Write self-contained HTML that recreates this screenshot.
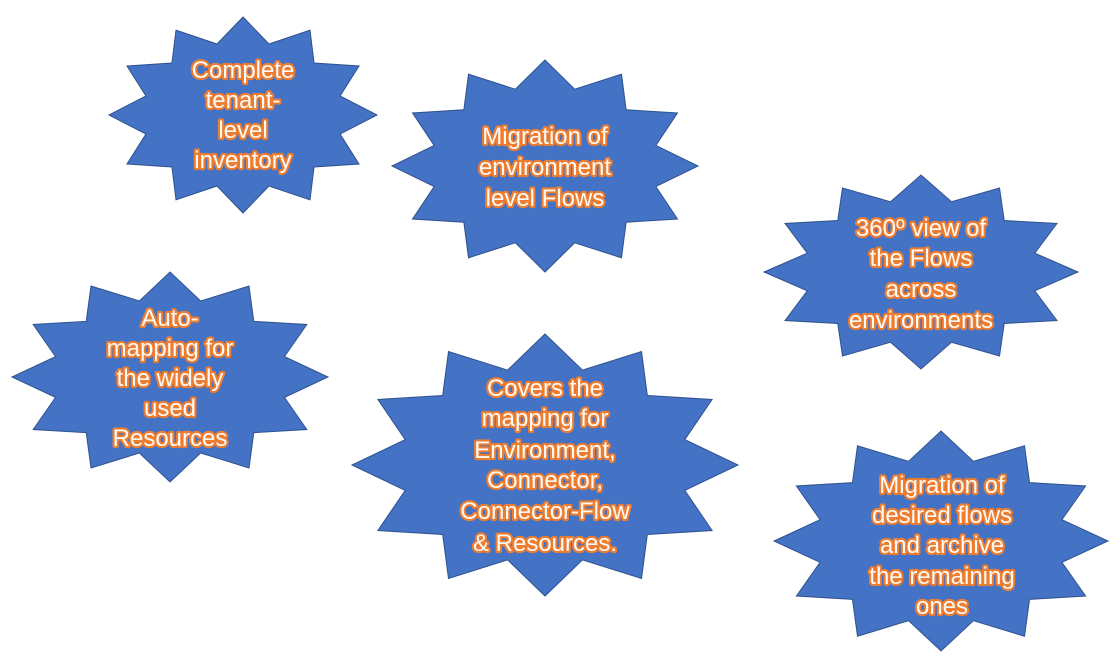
<!DOCTYPE html>
<html>
<head>
<meta charset="utf-8">
<style>
  html,body{margin:0;padding:0;background:#fff;}
  svg{display:block;}
  text{font-family:"Liberation Sans",Arial,sans-serif;font-size:24px;fill:#fffaf5;stroke:#ED7D31;stroke-width:4.2px;paint-order:stroke;stroke-linejoin:round;text-anchor:middle;}
  .st{fill:#4472C4;stroke:#2F528F;stroke-width:1;vector-effect:non-scaling-stroke;}
</style>
</head>
<body>
<svg width="1120" height="666" viewBox="0 0 1120 666" xmlns="http://www.w3.org/2000/svg">
  <defs>
    <polygon id="star" class="st" points="0,-1 0.1941,-0.7244 0.5,-0.866 0.5303,-0.5303 0.866,-0.5 0.7244,-0.1941 1,0 0.7244,0.1941 0.866,0.5 0.5303,0.5303 0.5,0.866 0.1941,0.7244 0,1 -0.1941,0.7244 -0.5,0.866 -0.5303,0.5303 -0.866,0.5 -0.7244,0.1941 -1,0 -0.7244,-0.1941 -0.866,-0.5 -0.5303,-0.5303 -0.5,-0.866 -0.1941,-0.7244"/>
  </defs>

  <!-- Star 1 -->
  <use href="#star" transform="translate(243,115) scale(134,98)"/>
  <text x="243" y="78">Complete</text>
  <text x="243" y="108">tenant-</text>
  <text x="243" y="138">level</text>
  <text x="243" y="168">inventory</text>

  <!-- Star 2 -->
  <use href="#star" transform="translate(545,166) scale(153,106)"/>
  <text x="545" y="144">Migration of</text>
  <text x="545" y="175">environment</text>
  <text x="545" y="206">level Flows</text>

  <!-- Star 3 -->
  <use href="#star" transform="translate(921,272) scale(157,97)"/>
  <text x="921" y="236">360º view of</text>
  <text x="921" y="266">the Flows</text>
  <text x="921" y="297">across</text>
  <text x="921" y="328">environments</text>

  <!-- Star 4 -->
  <use href="#star" transform="translate(170,377) scale(158,105)"/>
  <text x="170" y="326">Auto-</text>
  <text x="170" y="356">mapping for</text>
  <text x="170" y="386">the widely</text>
  <text x="170" y="416">used</text>
  <text x="170" y="446">Resources</text>

  <!-- Star 5 -->
  <use href="#star" transform="translate(545,465) scale(193,131)"/>
  <text x="545" y="396">Covers the</text>
  <text x="545" y="426">mapping for</text>
  <text x="545" y="458">Environment,</text>
  <text x="545" y="488">Connector,</text>
  <text x="545" y="519">Connector-Flow</text>
  <text x="545" y="551">&amp; Resources.</text>

  <!-- Star 6 -->
  <use href="#star" transform="translate(941,541) scale(167,110)"/>
  <text x="942" y="493">Migration of</text>
  <text x="942" y="523">desired flows</text>
  <text x="942" y="553">and archive</text>
  <text x="942" y="584">the remaining</text>
  <text x="942" y="614">ones</text>
</svg>
</body>
</html>
